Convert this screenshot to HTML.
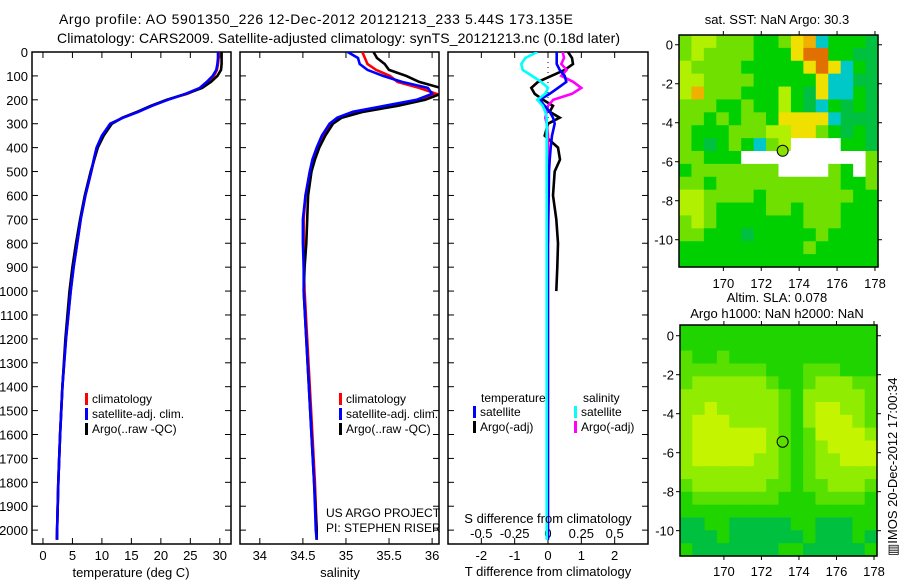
<!DOCTYPE html>
<html><head><meta charset="utf-8"><style>
html,body{margin:0;padding:0;background:#fff;}
svg{display:block;font-family:"Liberation Sans",Arial,sans-serif;}
</style></head><body>
<svg id="c" width="900" height="580" viewBox="0 0 900 580">
<text x="59" y="24" font-size="14" textLength="514">Argo profile: AO 5901350_226 12-Dec-2012 20121213_233 5.44S 173.135E</text>
<text x="57" y="43" font-size="14" textLength="563">Climatology: CARS2009. Satellite-adjusted climatology: synTS_20121213.nc (0.18d later)</text>
<text x="777" y="24" font-size="13" text-anchor="middle">sat. SST: NaN Argo: 30.3</text>
<text x="777" y="302" font-size="13" text-anchor="middle">Altim. SLA: 0.078</text>
<text x="777" y="318" font-size="13" text-anchor="middle">Argo h1000: NaN h2000: NaN</text>
<text transform="translate(897,556) rotate(-90)" font-size="13">▥IMOS 20-Dec-2012 17:00:34</text>
<text x="326" y="517" font-size="12">US ARGO PROJECT</text>
<text x="326" y="532" font-size="12">PI: STEPHEN RISER</text>
</svg>
<script>
// ---- profile data ----
const depths = [0,25,50,75,100,125,150,175,200,225,250,275,300,350,400,450,500,600,700,800,900,1000,1200,1400,1600,1800,2000,2040];
const tempClim = [29.8,29.8,29.7,29.5,29.0,28.0,26.8,24.5,21.0,18.5,16.0,13.5,11.6,10.2,9.2,8.7,8.2,7.2,6.4,5.8,5.2,4.7,3.9,3.3,2.9,2.6,2.4,2.4];
const tempSat = [29.7,29.7,29.6,29.4,28.8,27.8,26.6,24.2,21.2,18.5,16.2,13.6,11.4,10.0,9.1,8.6,8.2,7.2,6.4,5.8,5.2,4.7,3.9,3.3,2.9,2.6,2.4,2.4];
const tempArgo = [30.3,30.3,30.3,30.2,29.6,28.5,27.0,24.3,21.0,18.3,16.0,13.5,11.7,10.3,9.3,8.7,8.1,7.1,6.3,5.6,5.0,4.5,3.8,3.3,2.9,2.6,2.4,2.35];
const salClim = [35.19,35.22,35.25,35.35,35.51,35.6,35.85,36.05,35.9,35.55,35.15,34.92,34.82,34.73,34.67,34.62,34.58,34.53,34.51,34.51,34.51,34.52,34.55,34.58,34.61,34.64,34.66,34.66];
const salSat = [35.02,35.14,35.16,35.25,35.43,35.65,35.95,36.0,35.82,35.45,35.08,34.9,34.81,34.72,34.66,34.61,34.58,34.53,34.5,34.5,34.51,34.51,34.54,34.57,34.6,34.63,34.65,34.66];
const salArgo = [35.32,35.36,35.45,35.5,35.7,35.85,36.1,36.1,35.92,35.6,35.2,34.95,34.85,34.76,34.69,34.64,34.6,34.56,34.55,34.54,34.52,34.51,34.54,34.57,34.6,34.63,34.66,34.66];
const diffDepths = [0,25,50,75,100,125,150,175,200,225,250,275,300,350,400,450,500,600,700,800,900,1000,1500,2040];
const dTSat = [0.26,0.26,0.26,0.35,0.5,0.55,0.3,0.05,-0.25,-0.1,0.05,0.15,0.2,0.12,0.08,0.05,0.03,0.02,0.01,0,0,0,0,0];
const dTArgo = [0.6,0.72,0.75,0.5,0.1,-0.3,-0.5,-0.4,-0.15,0.15,0.05,0.35,0.0,-0.1,0.3,0.36,0.2,0.15,0.25,0.3,0.28,0.25];
const dSSat = [-0.08,-0.17,-0.2,-0.19,-0.12,-0.05,0,-0.02,-0.08,-0.04,-0.02,-0.01,-0.01,-0.01,-0.01,-0.01,-0.01,-0.01,-0.01,-0.01,-0.01,-0.01,-0.01,-0.01];
const dSArgo = [0.11,0.12,0.1,0.14,0.1,0.19,0.25,0.18,0.04,0,-0.01,-0.02,-0.01,0,0,0,0,0,0,0];
const depthTicks = [0,100,200,300,400,500,600,700,800,900,1000,1100,1200,1300,1400,1500,1600,1700,1800,1900,2000];
const tempTicks = [0,5,10,15,20,25,30];
const salTicks = [34,34.5,35,35.5,36];
const salTickLabels = ["34","34.5","35","35.5","36"];
const dTTicks = [-2,-1,0,1,2];
const dSTicks = [-0.5,-0.25,0,0.25,0.5];
const dSTickLabels = ["-0.5","-0.25","0","0.25","0.5"];
// ---- map data (colour codes) ----
const sstGrid = ["LYYLLLGGLyOCGGGD","LYLLLLGGGyRRGGDD","YLLLLGGGGGyRyCGD","YYLLLLGGGGGyCCDD","YOLLLGGGYGDyCCGD","LLLGGLGGYGDCGDGD","LLGLGLLGyyyyCDDD","LGGGLLLYYyyLGDGD","LGDGLGCLYWWWWGGD","LLGGGWWWWWWWWWWL","GLLLLLLLWWWWLGWL","LLGLLLLLLLLLLGGL","YYLLLLGLLLLLLLGG","YYLGGGGLLGLLLGGG","LYLGGGGGGGLLLGGG","LLGGGDGGGGGLGGGG","GGGGGGGGGGLGGGGG","GGGGGGGGGGGGGGGG"];
const slaGrid = ["GGGGGGGGGGGGGGGG","GGGGGGGGGGGGGGGG","gGGgGGGGGGGGGGGG","gggggggGGGgggGGG","gLLLLLLgGGgLLLgg","LLLLLLLLgGLLLLLg","LLYLLLLLgGLYYLLg","LYYYLLLLgGLYYYLg","LYYYYYYLgGgYYYYL","LYYYYYYLgGgLYYYY","LYYYYYLLgGgLLYYY","LLLLLLLLgGgLLLLL","gLLLLLLggGggLLLg","GgggggggGGGggggG","GGGGGGGGGGGGGGGG","DDGGDDDDDGGDDDGG","DDDGDDDDDDGDDDGD","GDDDDDDDGGDDDDDG"];
const mapLonTicks = [170,172,174,176,178];
const mapLatTicks = [0,-2,-4,-6,-8,-10];
const argoLon = 173.13, argoLat = -5.44;

const NS="http://www.w3.org/2000/svg";
const svg=document.getElementById('c');
function mk(tag,attrs,parent){const e=document.createElementNS(NS,tag);for(const k in attrs)e.setAttribute(k,attrs[k]);(parent||svg).appendChild(e);return e;}

// y axis (depth)
const PT=52, PB=544, DMAX=2058;
const yD=d=>PT+d/DMAX*(PB-PT);

function panel(name,x0,x1,xmin,xmax){
  const g=mk('g',{});
  
  
  const sx=v=>x0+(v-xmin)/(xmax-xmin)*(x1-x0);
  const cp=mk('clipPath',{id:'cp-'+name},g);
  mk('rect',{x:x0,y:PT,width:x1-x0,height:PB-PT},cp);
  return {g,sx,x0,x1,clip:'url(#cp-'+name+')'};
}
function frame(p,name){
  const r=mk('rect',{x:p.x0,y:PT,width:p.x1-p.x0,height:PB-PT,fill:'none',stroke:'#000','stroke-width':1.5},p.g);
  
  
  depthTicks.forEach(d=>{
    const y=yD(d);
    mk('line',{x1:p.x0,x2:p.x0+6,y1:y,y2:y,stroke:'#000'},p.g);
    mk('line',{x1:p.x1-6,x2:p.x1,y1:y,y2:y,stroke:'#000'},p.g);
  });
}
function xticks(p,ticks,labels,ly){
  ticks.forEach((v,i)=>{
    const x=p.sx(v);
    mk('line',{x1:x,x2:x,y1:PT,y2:PT+6,stroke:'#000'},p.g);
    mk('line',{x1:x,x2:x,y1:PB-6,y2:PB,stroke:'#000'},p.g);
    const t=mk('text',{x:x,y:ly,'font-size':13,'text-anchor':'middle'},p.g);
    t.textContent=labels[i];
    
    
  });
}
function series(p,vals,dep,sx,color,name){
  const pts=vals.map((v,i)=>sx(v).toFixed(1)+','+yD(dep[i]).toFixed(1)).join(' ');
  const l=mk('polyline',{points:pts,fill:'none',stroke:color,'stroke-width':2.6,'clip-path':p.clip},p.g);
  
  
}
function legend(g,x,y,color,label){
  mk('rect',{x:x,y:y-10,width:3,height:12,fill:color},g);
  const t=mk('text',{x:x+7,y:y,'font-size':12},g);
  t.textContent=label;
  
  
}

// depth labels
depthTicks.forEach(d=>{
  const t=mk('text',{x:28,y:yD(d)+5,'font-size':13,'text-anchor':'end'});
  t.textContent=d;
  
  
});

// Temperature
const pT=panel('temperature-panel',32,231,-1.86,31.9);
frame(pT,'temperature-axes');
xticks(pT,tempTicks,tempTicks.map(String),560);
series(pT,tempClim,depths,pT.sx,'#f00','temp-climatology-line');
series(pT,tempArgo,depths,pT.sx,'#000','temp-argo-line');
series(pT,tempSat,depths,pT.sx,'#00f','temp-satellite-line');
legend(pT.g,85,403,'#f00','climatology');
legend(pT.g,85,418,'#00f','satellite-adj. clim.');
legend(pT.g,85,433,'#000','Argo(..raw -QC)');
let t=mk('text',{x:131,y:577,'font-size':13,'text-anchor':'middle'});t.textContent='temperature (deg C)';



// Salinity
const pS=panel('salinity-panel',240,439,33.77,36.08);
frame(pS,'salinity-axes');
xticks(pS,salTicks,salTickLabels,560);
series(pS,salClim,depths,pS.sx,'#f00','sal-climatology-line');
series(pS,salArgo,depths,pS.sx,'#000','sal-argo-line');
series(pS,salSat,depths,pS.sx,'#00f','sal-satellite-line');
legend(pS.g,339,403,'#f00','climatology');
legend(pS.g,339,418,'#00f','satellite-adj. clim.');
legend(pS.g,339,433,'#000','Argo(..raw -QC)');
t=mk('text',{x:340,y:577,'font-size':13,'text-anchor':'middle'});t.textContent='salinity';



// Differences
const pD=panel('difference-panel',448,648,-3,3);
const sxS=v=>pD.sx(v*4);
frame(pD,'difference-axes');
mk('line',{x1:pD.sx(0),x2:pD.sx(0),y1:PT,y2:PB,stroke:'#000','stroke-dasharray':'1,4'},pD.g);
xticks(pD,dTTicks,dTTicks.map(String),560);
dSTicks.forEach((v,i)=>{const tt=mk('text',{x:sxS(v),y:538,'font-size':13,'text-anchor':'middle'},pD.g);tt.textContent=dSTickLabels[i];

});
series(pD,dTArgo,diffDepths,pD.sx,'#000','t-diff-argo-line');
series(pD,dSArgo,diffDepths,sxS,'#f0f','s-diff-argo-line');
series(pD,dTSat,diffDepths,pD.sx,'#00f','t-diff-satellite-line');
series(pD,dSSat,diffDepths,sxS,'#0ff','s-diff-satellite-line');
t=mk('text',{x:481,y:402,'font-size':12},pD.g);t.textContent='temperature';


t=mk('text',{x:583,y:402,'font-size':12},pD.g);t.textContent='salinity';


legend(pD.g,473,416,'#00f','satellite');
legend(pD.g,473,431,'#000','Argo(-adj)');
legend(pD.g,574,416,'#0ff','satellite');
legend(pD.g,574,431,'#f0f','Argo(-adj)');
t=mk('text',{x:548,y:523,'font-size':13,'text-anchor':'middle'});t.textContent='S difference from climatology';


t=mk('text',{x:548,y:576,'font-size':13,'text-anchor':'middle'});t.textContent='T difference from climatology';



// Maps
const sstCol={G:'#00d000',D:'#00c040',L:'#70e000',Y:'#b0f000',y:'#f0e000',O:'#f0b000',R:'#e07000',C:'#00c8c8',W:'#ffffff'};
const slaCol={G:'#20d400',g:'#58e000',L:'#90ec00',Y:'#c4f400',D:'#00c040'};
function map(name,grid,cols,x0,x1,y0,y1,lat0,lat1,lon0,lon1,fillCircle,labY){
  const g=mk('g',{});
  
  
  const sx=v=>x0+(v-lon0)/(lon1-lon0)*(x1-x0);
  const sy=v=>y0+(lat0-v)/(lat0-lat1)*(y1-y0);
  const nr=grid.length,nc=grid[0].length,cw=(x1-x0)/nc,ch=(y1-y0)/nr;
  grid.forEach((row,r)=>{for(let c=0;c<nc;c++){
    const cell=mk('rect',{x:(x0+c*cw).toFixed(2),y:(y0+r*ch).toFixed(2),width:(cw+0.6).toFixed(2),height:(ch+0.6).toFixed(2),fill:cols[row[c]]},g);
    
    
  }});
  const b=mk('rect',{x:x0,y:y0,width:x1-x0,height:y1-y0,fill:'none',stroke:'#000','stroke-width':1.5},g);
  
  
  mapLonTicks.forEach(v=>{const x=sx(v);
    mk('line',{x1:x,x2:x,y1:y0-4,y2:y0,stroke:'#000'},g);
    mk('line',{x1:x,x2:x,y1:y1,y2:y1+4,stroke:'#000'},g);
    const tt=mk('text',{x:x,y:labY,'font-size':13,'text-anchor':'middle'},g);tt.textContent=v;
    
    });
  mapLatTicks.forEach(v=>{const y=sy(v);
    mk('line',{x1:x0-4,x2:x0,y1:y,y2:y,stroke:'#000'},g);
    mk('line',{x1:x1,x2:x1+4,y1:y,y2:y,stroke:'#000'},g);
    const tt=mk('text',{x:x0-6,y:y+5,'font-size':13,'text-anchor':'end'},g);tt.textContent=v;
    
    });
  const ci=mk('circle',{cx:sx(argoLon),cy:sy(argoLat),r:5.5,fill:fillCircle,stroke:'#000','stroke-width':1},g);
  
  
}
map('sst-map',sstGrid,sstCol,679,878,35,267,0.5,-11.4,167.66,178.16,'#8ae000',288);
map('sla-map',slaGrid,slaCol,680,877,325,556,0.55,-11.3,167.66,178.16,'none',576);
</script>
</body></html>
